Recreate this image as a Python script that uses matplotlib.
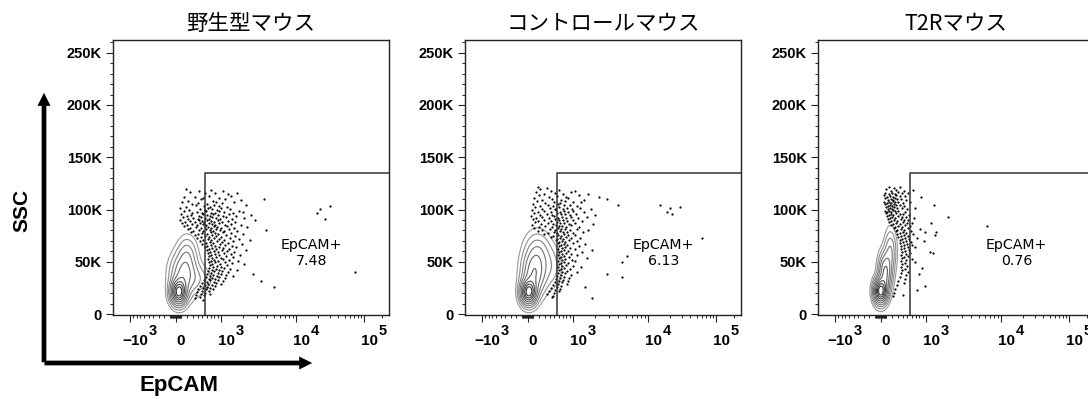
import numpy as np
import matplotlib
matplotlib.use('Agg')
import matplotlib.pyplot as plt
from matplotlib.patches import FancyArrowPatch, ArrowStyle

plt.rcParams['font.family'] = ['Liberation Sans', 'DejaVu Sans']

# --- dane ---
titles = ['野生型マウス', 'コントロールマウス', 'T2Rマウス']
gate_pct = ['7.48', '6.13', '0.76']
gate_x = 555          # próg EpCAM
gate_top = 135        # SSC (K)
label_pos = (16500, 58.5)

# kontury: (środek EpCAM, środek SSC[K], szer. w jedn. asinh, szer. SSC[K], waga)
wt_blobs = [(54, 21, 0.12, 7, 1.0), (145, 38, 0.20, 12, 0.35),
            (200, 58, 0.15, 10, 0.12), (420, 33, 0.20, 8, 0.08)]
ctrl_blobs = [(18, 21, 0.12, 7, 1.0), (110, 38, 0.18, 12, 0.40),
              (170, 58, 0.20, 12, 0.18), (420, 45, 0.18, 12, 0.08)]
t2r_blobs = [(0, 22, 0.10, 7, 1.0), (80, 40, 0.10, 11, 0.45), (170, 60, 0.09, 12, 0.18)]

# zdarzenia poza konturami (EpCAM, SSC w K)
wt_x = [182, 419, 704, 1071, 258, 554, 816, 1255, 1645, 145, 337, 507, 652, 937, 1376,
        220, 463, 759, 1140, 1850, 3670, 108, 297, 400, 602, 845, 1037, 1500,
        182, 357, 530, 679, 787, 937, 1215, 2140, 30000,
        72, 239, 441, 554, 627, 731, 875, 1002, 1334, 1745, 21500,
        145, 297, 378, 485, 578, 704, 816, 937, 1105, 1461, 1960,
        90, 200, 278, 419, 507, 602, 679, 759, 905, 1071, 1294, 1595, 2540,
        127, 220, 317, 400, 463, 554, 652, 731, 845, 970, 1178, 1418, 2074, 25600,
        72, 163, 258, 337, 419, 485, 530, 602, 704, 787, 905, 1037, 1255, 1548, 2850,
        108, 200, 297, 378, 441, 507, 578, 652, 731, 816, 937, 1140, 1376, 1850,
        145, 258, 357, 463, 554, 627, 704, 787, 875, 1002, 1215, 1500, 2260,
        220, 317, 419, 507, 578, 679, 759, 845, 970, 1105, 1294, 1645, 4010,
        278, 400, 485, 602, 704, 816, 905, 1071, 1376, 1960,
        337, 463, 554, 652, 731, 845, 1002, 1178, 1548,
        378, 507, 627, 704, 787, 937, 1105, 1334, 1745, 2470,
        441, 578, 679, 759, 875, 1037, 1255, 1461,
        485, 602, 704, 816, 970, 1140, 1418, 1905,
        554, 652, 731, 845, 937, 1071, 1294, 1595,
        602, 679, 787, 905, 1037, 1215, 1500, 2200,
        627, 704, 816, 937, 1105, 1376, 1795,
        652, 731, 845, 1002, 1178, 1461,
        627, 704, 787, 905, 1071, 1294, 1695,
        652, 731, 816, 970, 1140, 1418, 2015,
        679, 759, 875, 1002, 1215,
        652, 731, 845, 937, 1105, 1334, 1645,
        627, 704, 787, 905, 1037, 1255, 73000,
        602, 679, 759, 875, 1002, 1178, 1461, 2700,
        578, 652, 731, 816, 937, 1140,
        530, 602, 679, 787, 905, 1071, 3380,
        485, 554, 627, 731, 845, 1002,
        441, 507, 602, 679, 816, 5100,
        400, 485, 578, 652, 759,
        378, 463, 554, 679,
        357, 441, 530,
        337, 507, 19600]
wt_y = [119.5, 117.9, 118.8, 117.4, 117.0, 115.4, 116.3, 114.5, 116.0, 111.6, 112.5, 110.7, 113.2, 111.1, 112.8,
        108.4, 109.7, 108.1, 110.2, 109.3, 110.0, 107.0, 105.5, 106.4, 105.0, 107.5, 105.9, 106.8,
        102.6, 104.1, 103.5, 102.1, 104.6, 103.0, 102.4, 104.0, 103.3,
        101.3, 99.8, 100.7, 99.3, 101.8, 100.2, 99.6, 101.1, 100.4, 99.1, 100.9,
        98.4, 96.9, 97.8, 96.4, 98.9, 97.2, 96.7, 98.2, 97.5, 96.3, 98.0,
        95.7, 94.1, 95.0, 93.6, 96.1, 94.5, 93.9, 95.4, 94.7, 93.5, 95.9, 94.3, 95.2,
        92.7, 91.1, 92.3, 90.8, 93.2, 91.6, 91.0, 92.5, 91.8, 90.6, 92.9, 91.4, 92.1, 90.9,
        89.8, 88.3, 89.4, 87.9, 90.3, 88.7, 88.0, 89.6, 88.9, 87.7, 90.1, 88.5, 89.2, 88.1, 89.7,
        87.0, 85.5, 86.6, 85.1, 87.4, 85.9, 85.3, 86.8, 86.0, 84.9, 87.2, 85.7, 86.4, 85.2,
        84.1, 82.6, 83.7, 82.2, 84.5, 83.0, 82.4, 83.9, 83.1, 82.0, 84.3, 82.8, 83.5,
        81.2, 79.7, 80.8, 79.3, 81.6, 80.1, 79.5, 81.0, 80.3, 79.1, 81.4, 79.9, 80.6,
        78.4, 76.9, 78.0, 76.5, 78.8, 77.3, 76.7, 78.2, 77.5, 76.3,
        75.5, 74.0, 75.1, 73.6, 75.9, 74.4, 73.8, 75.3, 74.6,
        72.6, 71.1, 72.2, 70.7, 73.0, 71.5, 70.9, 72.4, 71.7, 70.5,
        69.8, 68.3, 69.4, 67.9, 70.2, 68.7, 68.1, 69.6,
        66.9, 65.4, 66.5, 65.0, 67.3, 65.8, 65.2, 66.7,
        64.1, 62.6, 63.7, 62.2, 64.5, 63.0, 62.4, 63.9,
        61.2, 59.7, 60.8, 59.3, 61.6, 60.1, 59.5, 61.0,
        58.3, 56.8, 57.9, 56.4, 58.7, 57.2, 56.6,
        55.5, 54.0, 55.1, 53.6, 55.9, 54.4,
        52.6, 51.1, 52.2, 50.7, 53.0, 51.5, 50.9,
        49.8, 48.3, 49.4, 47.9, 50.2, 48.7, 48.1,
        46.9, 45.4, 46.5, 45.0, 47.3,
        44.0, 42.5, 43.6, 42.1, 44.4, 42.9, 42.3,
        41.2, 39.7, 40.8, 39.3, 41.6, 40.1, 40.4,
        38.3, 36.8, 37.9, 36.4, 38.7, 37.2, 36.6, 38.1,
        35.4, 33.9, 35.0, 33.5, 35.8, 34.3,
        32.6, 31.1, 32.2, 30.7, 33.0, 31.5, 31.8,
        29.7, 28.2, 29.3, 27.8, 30.1, 28.6,
        26.8, 25.3, 26.4, 24.9, 27.2, 26.0,
        24.0, 22.5, 23.6, 22.1, 24.4,
        21.1, 19.6, 20.7, 19.2,
        18.3, 16.8, 17.9,
        15.4, 13.9, 96.7]

ctrl_x = [182, 337, 220, 419, 602, 1071, 145, 297, 507, 704, 937, 1595,
          200, 378, 554, 787, 1215, 2260, 108, 258, 441, 652, 845, 1418, 2850,
          163, 317, 485, 627, 759, 1002, 1294,
          90, 220, 357, 463, 578, 731, 905, 1140, 3990, 14500,
          127, 258, 400, 507, 602, 704, 816, 970, 1255, 1745, 20200, 28300,
          72, 182, 297, 419, 530, 627, 731, 845, 1002, 1418,
          108, 220, 337, 441, 554, 652, 759, 905, 1105, 1960, 21500,
          54, 145, 258, 378, 485, 578, 679, 787, 937, 1178, 1548,
          90, 182, 297, 419, 507, 602, 704, 816, 1002, 1334,
          127, 239, 357, 463, 554, 627, 731, 875, 1071, 1850,
          72, 200, 317, 441, 530, 602, 679, 787, 937, 1215,
          108, 258, 400, 507, 578, 652, 759, 905, 1140, 1595,
          182, 357, 485, 554, 627, 704, 816, 1002, 1376,
          297, 463, 578, 652, 731, 845, 1071,
          419, 554, 627, 704, 787, 937, 1255, 61300,
          530, 602, 679, 759, 875, 1140,
          578, 652, 731, 816, 1002, 1461,
          602, 679, 759, 905, 1215,
          578, 652, 731, 845, 1071, 1795,
          602, 679, 787, 937, 1334,
          578, 652, 731, 875, 1140, 5120,
          602, 679, 759, 970, 1548,
          578, 652, 731, 845, 1071, 4450,
          602, 679, 787, 1002,
          578, 652, 731, 905, 1294,
          602, 679, 816, 1140,
          578, 652, 759, 937, 2850,
          554, 627, 731, 875, 4450,
          530, 602, 704, 845,
          507, 578, 679, 816,
          463, 554, 652, 1461,
          419, 507, 627,
          378, 485, 602,
          337, 463,
          441, 1795, 18300]
ctrl_y = [121.9, 120.8, 119.3, 118.0, 119.0, 117.9, 116.4, 115.1, 116.2, 114.8, 116.6, 115.3,
          113.6, 112.2, 113.3, 111.9, 113.8, 112.5, 110.7, 109.3, 110.4, 109.0, 111.0, 109.6, 110.3,
          107.8, 106.4, 107.5, 106.1, 108.1, 106.8, 107.3,
          105.0, 103.6, 104.7, 103.2, 105.3, 103.9, 104.5, 103.1, 104.8, 104.0,
          102.1, 100.7, 101.8, 100.3, 102.4, 101.0, 101.6, 100.2, 101.9, 100.6, 101.1, 102.3,
          99.2, 97.8, 98.9, 97.4, 99.5, 98.1, 98.7, 97.3, 99.0, 97.7,
          96.4, 95.0, 96.1, 94.6, 96.7, 95.3, 95.9, 94.5, 96.2, 94.9, 95.5,
          93.5, 92.1, 93.2, 91.7, 93.8, 92.4, 93.0, 91.6, 93.3, 92.0, 92.6,
          90.7, 89.3, 90.4, 88.9, 91.0, 89.6, 90.2, 88.8, 90.5, 89.1,
          87.8, 86.4, 87.5, 86.0, 88.1, 86.7, 87.3, 85.9, 87.6, 86.2,
          85.0, 83.6, 84.7, 83.2, 85.3, 83.9, 84.5, 83.1, 84.8, 83.4,
          82.1, 80.7, 81.8, 80.3, 82.4, 81.0, 81.6, 80.2, 81.9, 80.5,
          79.2, 77.8, 78.9, 77.4, 79.5, 78.1, 78.7, 77.3, 79.0,
          76.4, 75.0, 76.1, 74.6, 76.7, 75.3, 75.9,
          73.5, 72.1, 73.2, 71.7, 73.8, 72.4, 73.0, 72.8,
          70.6, 69.2, 70.3, 68.8, 70.9, 69.5,
          67.8, 66.4, 67.5, 66.0, 68.1, 66.7,
          64.9, 63.5, 64.6, 63.1, 65.2,
          62.1, 60.7, 61.8, 60.3, 62.4, 61.0,
          59.2, 57.8, 58.9, 57.4, 59.5,
          56.3, 54.9, 56.0, 54.5, 56.6, 55.6,
          53.5, 52.1, 53.2, 51.7, 53.8,
          50.6, 49.2, 50.3, 48.8, 50.9, 49.9,
          47.7, 46.3, 47.4, 45.9,
          44.9, 43.5, 44.6, 43.1, 45.2,
          42.0, 40.6, 41.7, 40.2,
          39.2, 37.8, 38.9, 37.4, 38.5,
          36.3, 34.9, 36.0, 34.5, 35.6,
          33.4, 32.0, 33.1, 31.6,
          30.6, 29.2, 30.3, 28.8,
          27.7, 26.3, 27.4, 26.0,
          24.8, 23.4, 24.5,
          22.0, 20.6, 21.7,
          19.1, 17.7,
          16.3, 15.6, 97.6]

t2r_x = [145, 239, 337, 90, 182, 278, 419, 627, 72, 145, 200, 258, 317, 378, 507,
         54, 108, 163, 220, 278, 337, 441, 845, 72, 127, 182, 220, 258, 297, 357, 463,
         54, 108, 145, 182, 220, 258, 317, 400, 554,
         72, 127, 163, 200, 239, 278, 337, 419, 1294,
         90, 127, 163, 200, 239, 297, 378, 485, 679,
         72, 108, 145, 182, 220, 258, 317, 441,
         90, 145, 182, 220, 278, 337, 400, 530,
         108, 163, 200, 258, 317, 378, 463, 652, 1960,
         127, 182, 239, 297, 357, 419, 507,
         145, 220, 278, 337, 400, 485, 602, 1178,
         182, 258, 317, 378, 441, 554, 6360,
         239, 297, 357, 419, 507, 816,
         278, 337, 400, 463, 578, 970, 1376,
         297, 357, 419, 507, 627, 1334,
         317, 378, 441, 530, 731,
         337, 400, 463, 578, 937,
         337, 419, 485, 602,
         357, 419, 507, 679,
         357, 441, 530,
         378, 463, 554, 1255, 1140,
         357, 419, 507,
         378, 463, 602,
         357, 441, 679,
         378, 485,
         357, 441, 875,
         378, 507,
         357, 463, 787,
         337, 441,
         317, 419,
         297, 970,
         258, 731,
         239, 400,
         220]
t2r_y = [122.0, 120.9, 121.6, 119.2, 118.0, 119.0, 117.9, 118.8, 116.3, 115.2, 116.1, 114.9, 116.5, 115.4, 116.0,
         113.5, 112.3, 113.3, 112.0, 113.7, 112.6, 113.1, 112.4, 110.6, 109.4, 110.4, 109.1, 110.8, 109.7, 110.2, 109.5,
         107.7, 106.5, 107.5, 106.2, 107.9, 106.8, 107.3, 106.6, 107.4,
         104.9, 103.7, 104.7, 103.4, 105.1, 104.0, 104.5, 103.8, 104.3,
         102.0, 100.8, 101.8, 100.5, 102.2, 101.1, 101.6, 100.9, 101.5,
         99.1, 97.9, 98.9, 97.6, 99.3, 98.2, 98.7, 98.0,
         96.3, 95.1, 96.1, 94.8, 96.5, 95.4, 95.9, 95.2,
         93.4, 92.2, 93.2, 91.9, 93.6, 92.5, 93.0, 92.3, 92.8,
         90.6, 89.4, 90.4, 89.1, 90.8, 89.7, 90.2,
         87.7, 86.5, 87.5, 86.2, 87.9, 86.8, 87.3, 87.1,
         84.9, 83.7, 84.7, 83.4, 85.1, 84.0, 84.3,
         82.0, 80.8, 81.8, 80.5, 82.2, 81.4,
         79.1, 77.9, 78.9, 77.6, 79.3, 78.2, 78.8,
         76.3, 75.1, 76.1, 74.8, 76.5, 75.7,
         73.4, 72.2, 73.2, 71.9, 73.1,
         70.5, 69.3, 70.3, 69.0, 69.9,
         67.7, 66.5, 67.5, 66.2,
         64.8, 63.6, 64.6, 63.9,
         62.0, 60.8, 61.8,
         59.1, 57.9, 58.9, 58.2, 59.3,
         56.2, 55.0, 56.0,
         53.4, 52.2, 53.1,
         50.5, 49.3, 49.9,
         47.6, 46.4,
         44.8, 43.6, 44.2,
         41.9, 40.7,
         39.1, 37.9, 38.5,
         35.2, 34.0,
         31.4, 30.2,
         27.6, 27.0,
         23.8, 23.2,
         20.0, 18.8,
         17.1]

events = [(wt_x, wt_y), (ctrl_x, ctrl_y), (t2r_x, t2r_y)]
blobs = [wt_blobs, ctrl_blobs, t2r_blobs]

# skala osi X podobna do logicle: asinh z lekką kompresją górnych dekad
LIN_W = 650
COMP = 0.026


def fwd(x):
    v = np.arcsinh(np.asarray(x, dtype=float) / LIN_W)
    return v - COMP * v * np.abs(v)


def inv(p):
    p = np.asarray(p, dtype=float)
    v = (1 - np.sqrt(np.clip(1 - 4 * COMP * np.abs(p), 0, None))) / (2 * COMP)
    return LIN_W * np.sinh(np.sign(p) * v)


x_major = [-1000, 0, 1000, 10000, 100000]
x_base = ['\u221210', '0', '10', '10', '10']
x_sup = ['3', '', '3', '4', '5']
x_minor = ([-k * 100 for k in range(2, 10)] + [-k * 10 for k in range(1, 10)]
           + [k * 10 for k in range(1, 10)] + [k * 100 for k in range(1, 10)]
           + [k * 1000 for k in range(2, 10)] + [k * 10000 for k in range(2, 10)]
           + [200000])
y_major = [0, 50, 100, 150, 200, 250]
y_labels = ['0', '50K', '100K', '150K', '200K', '250K']
y_minor = list(range(0, 261, 10))
contour_levels = [0.02, 0.05, 0.1, 0.17, 0.27, 0.4, 0.55, 0.7, 0.85]
contour_colors = ['#999999', '#8c8c8c', '#808080', '#747474', '#686868',
                  '#5a5a5a', '#4c4c4c', '#404040', '#333333']


def density(blob_list, U, Y):
    Z = np.zeros_like(U)
    for cx, cy, su, sy, w in blob_list:
        cu = np.arcsinh(cx / LIN_W)
        Z += w * np.exp(-0.5 * (((U - cu) / su) ** 2 + ((Y - cy) / sy) ** 2))
    return Z / Z.max()


W, H = 1088, 399
fig = plt.figure(figsize=(W / 100, H / 100), dpi=100)
renderer = fig.canvas.get_renderer()
lefts = [113, 465, 818]

U, Yg = np.meshgrid(np.linspace(-1.7, 2.5, 320), np.linspace(-5, 170, 320))
Xg = LIN_W * np.sinh(U)

for i in range(3):
    ax = fig.add_axes([lefts[i] / W, 84 / H, 276 / W, 275 / H])
    ax.set_xscale('function', functions=(fwd, inv))
    ax.set_xlim(-1710, 262144)
    ax.set_ylim(-0.8, 262.144)

    Z = density(blobs[i], U, Yg)
    ax.contour(Xg, Yg, Z, levels=contour_levels, colors=contour_colors, linewidths=0.8)
    ex, ey = events[i]
    ax.plot(ex, ey, 'o', ms=1.6, mew=0, color='black')

    # bramka EpCAM+
    ax.plot([gate_x, gate_x, 1e6], [-5, gate_top, gate_top], color='#333333', lw=1.1)
    ax.text(label_pos[0], label_pos[1], 'EpCAM+\n' + gate_pct[i], ha='center', va='center',
            fontsize=10.2, family='DejaVu Sans', color='black', linespacing=1.2)

    ax.set_xticks(x_major, [''] * len(x_major))
    ax.set_xticks(x_minor, minor=True)
    ax.set_yticks(y_major, y_labels)
    ax.set_yticks(y_minor, minor=True)
    ax.tick_params(axis='both', which='major', length=5, width=0.8, color='#222222')
    ax.tick_params(axis='both', which='minor', length=2.5, width=0.7, color='#222222')
    ax.tick_params(axis='y', labelsize=10.5, pad=3)
    for lab in ax.get_yticklabels():
        lab.set_fontweight('bold')

    # etykiety osi X: podstawa + duży wykładnik
    for t, base, sup in zip(x_major, x_base, x_sup):
        tb = ax.annotate(base, xy=(t, 0), xycoords=('data', 'axes fraction'),
                         xytext=(4, -19), textcoords='offset points', ha='center',
                         va='center', fontsize=11, fontweight='bold', annotation_clip=False)
        if sup:
            w_pt = tb.get_window_extent(renderer).width * 72 / fig.dpi
            ax.annotate(sup, xy=(t, 0), xycoords=('data', 'axes fraction'),
                        xytext=(4 + w_pt / 2 + 0.3, -11.5), textcoords='offset points',
                        ha='left', va='center', fontsize=10.5, fontweight='bold',
                        annotation_clip=False)

    for sp in ax.spines.values():
        sp.set_color('#222222')
        sp.set_linewidth(1.0)
    ax.set_title(titles[i], fontsize=15.5, pad=7, family=['Noto Sans CJK JP', 'DejaVu Sans'])

# osie opisowe ze strzałkami
style = ArrowStyle('simple', head_length=0.94, head_width=0.94, tail_width=0.34)
fig.add_artist(FancyArrowPatch((44 / W, (H - 365) / H), (44 / W, (H - 90) / H),
                               transform=fig.transFigure, arrowstyle=style,
                               mutation_scale=10, color='black', lw=0))
fig.add_artist(FancyArrowPatch((41.7 / W, (H - 363) / H), (315 / W, (H - 363) / H),
                               transform=fig.transFigure, arrowstyle=style,
                               mutation_scale=10, color='black', lw=0))
fig.text(22 / W, (H - 210) / H, 'SSC', rotation=90, ha='center', va='center',
         fontsize=15, fontweight='bold')
fig.text(179 / W, (H - 385) / H, 'EpCAM', ha='center', va='center',
         fontsize=16, fontweight='bold')

fig.savefig('out.png', dpi=100)
